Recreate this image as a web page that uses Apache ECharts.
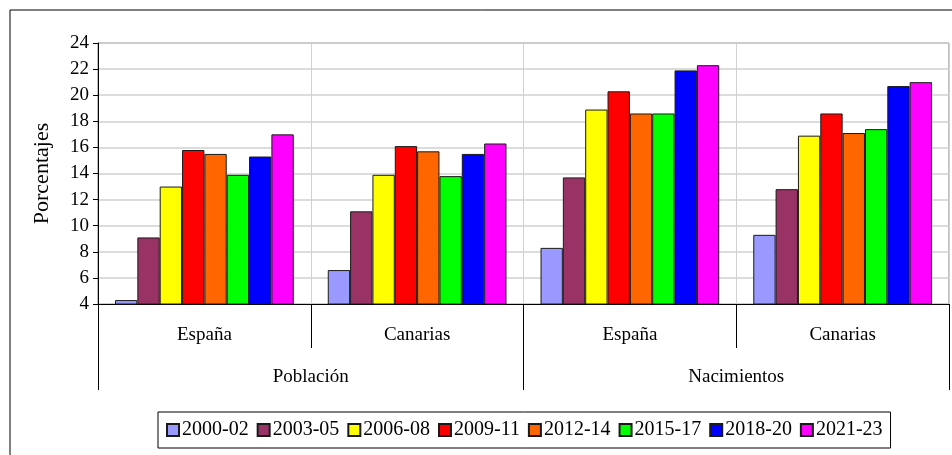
<!DOCTYPE html>
<html><head><meta charset="utf-8">
<script src="https://cdn.jsdelivr.net/npm/echarts@6/dist/echarts.min.js"></script>
<style>html,body{margin:0;padding:0;background:#fff;}#c{width:952px;height:455px;}</style>
</head><body><div id="c"></div>
<script>
const regions = ['España', 'Canarias', 'España', 'Canarias'];
const groups = ['Población', 'Nacimientos'];
const periods = ['2000-02', '2003-05', '2006-08', '2009-11', '2012-14', '2015-17', '2018-20', '2021-23'];
const colors = ['#9999FF', '#993366', '#FFFF00', '#FF0000', '#FF6600', '#00FF00', '#0000FF', '#FF00FF'];
const v2000_02 = [4.3, 6.6, 8.3, 9.3];
const v2003_05 = [9.1, 11.1, 13.7, 12.8];
const v2006_08 = [13.0, 13.9, 18.9, 16.9];
const v2009_11 = [15.8, 16.1, 20.3, 18.6];
const v2012_14 = [15.5, 15.7, 18.6, 17.1];
const v2015_17 = [13.9, 13.8, 18.6, 17.4];
const v2018_20 = [15.3, 15.5, 21.9, 20.7];
const v2021_23 = [17.0, 16.3, 22.3, 21.0];
const values = [v2000_02, v2003_05, v2006_08, v2009_11, v2012_14, v2015_17, v2018_20, v2021_23];
const yTicks = {min: 4, max: 24, interval: 2};

const font = 'Liberation Serif';
const chart = echarts.init(document.getElementById('c'), null, {renderer: 'canvas'});
chart.setOption({
  animation: false,
  backgroundColor: '#fff',
  textStyle: {fontFamily: font, color: '#000'},
  graphic: [{
    type: 'rect', shape: {x: 10, y: 10, width: 1000, height: 500},
    style: {fill: 'none', stroke: '#000', lineWidth: 1}, z: -1, silent: true
  }],
  grid: {left: 98, right: 3, top: 43, bottom: 151, show: true, borderColor: '#808080', borderWidth: 1},
  legend: {
    left: 158, top: 412, orient: 'horizontal',
    data: periods,
    itemWidth: 12, itemHeight: 12, itemGap: 8,
    padding: [8, 8, 8, 8],
    borderColor: '#000', borderWidth: 1,
    icon: 'rect',
    textStyle: {fontFamily: font, fontSize: 20, color: '#000', padding: [0, 0, 0, -2]}
  },
  xAxis: [{
    type: 'category', data: regions, position: 'bottom',
    axisLine: {show: true, lineStyle: {color: '#000', width: 1}},
    axisTick: {show: true, length: 44, interval: 0, alignWithLabel: false, lineStyle: {color: '#000'}},
    axisLabel: {margin: 22, interval: 0, fontFamily: font, fontSize: 19, color: '#000'},
    splitLine: {show: true, interval: 0, lineStyle: {color: '#d0d0d0', width: 1}}
  }, {
    type: 'category', data: groups, position: 'bottom', offset: 0,
    axisLine: {show: false},
    axisTick: {show: true, length: 86, interval: 0, alignWithLabel: false, lineStyle: {color: '#000'}},
    axisLabel: {margin: 64, interval: 0, fontFamily: font, fontSize: 19, color: '#000'},
    splitLine: {show: false}
  }],
  yAxis: {
    type: 'value', min: yTicks.min, max: yTicks.max, interval: yTicks.interval,
    name: 'Porcentajes', nameLocation: 'middle', nameGap: 45, nameRotate: 90,
    nameTextStyle: {fontFamily: font, fontSize: 22, color: '#000'},
    axisLine: {show: true, lineStyle: {color: '#000', width: 1}},
    axisTick: {show: true, length: 5, lineStyle: {color: '#000'}},
    axisLabel: {margin: 9, fontFamily: font, fontSize: 19, color: '#000'},
    splitLine: {show: true, lineStyle: {color: '#d0d0d0', width: 1.5}}
  },
  series: periods.map((p, i) => ({
    name: p, type: 'bar', xAxisIndex: 0, data: values[i],
    barGap: '0%', barCategoryGap: '16%',
    itemStyle: {color: colors[i], borderColor: '#1a1a1a', borderWidth: 1}
  }))
});
</script></body></html>
